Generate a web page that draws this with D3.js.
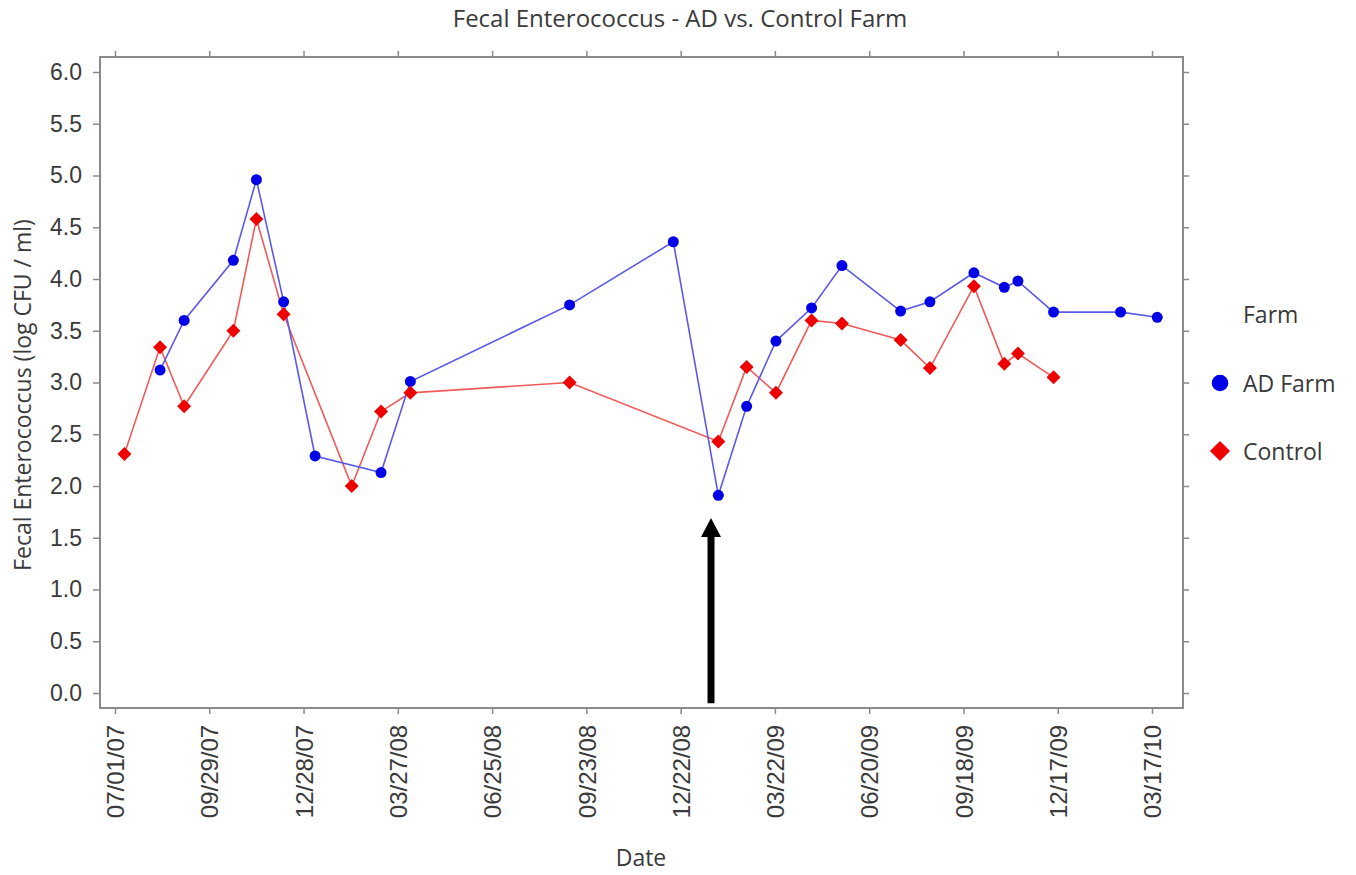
<!DOCTYPE html>
<html>
<head>
<meta charset="utf-8">
<script src="https://cdn.jsdelivr.net/npm/d3@7"></script>
<style>
  html, body { margin: 0; padding: 0; background: #ffffff; }
  svg { display: block; font-family: "Open Sans", "Noto Sans", sans-serif; }
</style>
</head>
<body>
<svg id="chart" width="1356" height="875"></svg>
<script>
// ---- data ----
const adDates = ["2007-08-13","2007-09-05","2007-10-22","2007-11-13","2007-12-09","2008-01-08","2008-03-11","2008-04-08","2008-09-07","2008-12-15","2009-01-27","2009-02-23","2009-03-23","2009-04-26","2009-05-25","2009-07-20","2009-08-17","2009-09-28","2009-10-27","2009-11-09","2009-12-13","2010-02-15","2010-03-22"];
const adValues = [3.12,3.60,4.18,4.96,3.78,2.29,2.13,3.01,3.75,4.36,1.91,2.77,3.40,3.72,4.13,3.69,3.78,4.06,3.92,3.98,3.68,3.68,3.63];

const ctrlDates = ["2007-07-10","2007-08-13","2007-09-05","2007-10-22","2007-11-13","2007-12-09","2008-02-12","2008-03-11","2008-04-08","2008-09-07","2009-01-27","2009-02-23","2009-03-23","2009-04-26","2009-05-25","2009-07-20","2009-08-17","2009-09-28","2009-10-27","2009-11-09","2009-12-13"];
const ctrlValues = [2.31,3.34,2.77,3.50,4.58,3.66,2.00,2.72,2.90,3.00,2.43,3.15,2.90,3.60,3.57,3.41,3.14,3.93,3.18,3.28,3.05];

const xTickLabels = ["07/01/07","09/29/07","12/28/07","03/27/08","06/25/08","09/23/08","12/22/08","03/22/09","06/20/09","09/18/09","12/17/09","03/17/10"];
const yTickValues = [0,0.5,1,1.5,2,2.5,3,3.5,4,4.5,5,5.5,6];
const seriesNames = ["AD Farm","Control"];
const arrowDate = "2009-01-20";
const arrowValues = [-0.1, 1.69];

// ---- setup ----
const svg = d3.select("#chart");
const parse = d3.utcParse("%Y-%m-%d");
const tickParse = d3.utcParse("%m/%d/%y");
const fmt = d3.utcFormat("%m/%d/%y");

const frame = {left: 100, right: 1183, top: 57, bottom: 708};

const x = d3.scaleUtc()
  .domain([tickParse(xTickLabels[0]), tickParse(xTickLabels[xTickLabels.length - 1])])
  .range([115, 1152]);
const y = d3.scaleLinear().domain([0, 6]).range([693, 72]);

const axisColor = "#8a8a8a";
const textColor = "#3a3a3a";
const xTicks = xTickLabels.map(tickParse);

// frame
svg.append("rect")
  .attr("x", frame.left).attr("y", frame.top)
  .attr("width", frame.right - frame.left).attr("height", frame.bottom - frame.top)
  .attr("fill", "none").attr("stroke", axisColor).attr("stroke-width", 2);

function styleAxis(g) {
  g.select(".domain").remove();
  g.selectAll(".tick line").attr("stroke", axisColor).attr("stroke-width", 1.5);
  g.selectAll(".tick text").attr("fill", textColor);
}

// bottom axis
const gx = svg.append("g").attr("transform", `translate(0,${frame.bottom})`)
  .call(d3.axisBottom(x).tickValues(xTicks).tickFormat(fmt).tickSize(6).tickPadding(6))
  .call(styleAxis);
gx.selectAll(".tick text")
  .attr("font-size", 24)
  .attr("text-anchor", "end")
  .attr("dx", "-0.45em")
  .attr("dy", "0.36em")
  .attr("x", 0).attr("y", 0)
  .attr("transform", "translate(0,6) rotate(-90)");

// top axis (ticks only)
svg.append("g").attr("transform", `translate(0,${frame.top})`)
  .call(d3.axisTop(x).tickValues(xTicks).tickFormat("").tickSize(6))
  .call(styleAxis);

// left axis
svg.append("g").attr("transform", `translate(${frame.left},0)`)
  .call(d3.axisLeft(y).tickValues(yTickValues).tickFormat(d3.format(".1f")).tickSize(7).tickPadding(11))
  .call(styleAxis)
  .selectAll(".tick text").attr("font-size", 23);

// right axis (ticks only)
svg.append("g").attr("transform", `translate(${frame.right},0)`)
  .call(d3.axisRight(y).tickValues(yTickValues).tickFormat("").tickSize(6))
  .call(styleAxis);

// titles
svg.append("text").attr("x", 680).attr("y", 27).attr("text-anchor", "middle")
  .attr("font-size", 24).attr("fill", textColor)
  .text("Fecal Enterococcus - AD vs. Control Farm");
svg.append("text").attr("x", 641).attr("y", 866).attr("text-anchor", "middle")
  .attr("font-size", 23).attr("fill", textColor).text("Date");
svg.append("text").attr("transform", "translate(31,395) rotate(-90)").attr("text-anchor", "middle")
  .attr("font-size", 23).attr("fill", textColor).text("Fecal Enterococcus (log CFU / ml)");

// series
const ad = adDates.map((d, i) => ({date: parse(d), value: adValues[i]}));
const ctrl = ctrlDates.map((d, i) => ({date: parse(d), value: ctrlValues[i]}));
const line = d3.line().x(d => x(d.date)).y(d => y(d.value));

svg.append("path").datum(ctrl).attr("d", line)
  .attr("fill", "none").attr("stroke", "#f05a5a").attr("stroke-width", 1.6);
svg.append("path").datum(ad).attr("d", line)
  .attr("fill", "none").attr("stroke", "#5a5ae6").attr("stroke-width", 1.6);

const diamond = d3.symbol().type(d3.symbolDiamond2);

svg.append("g").selectAll("circle").data(ad).join("circle")
  .attr("cx", d => x(d.date)).attr("cy", d => y(d.value)).attr("r", 5.5)
  .attr("fill", "#0000e6");
svg.append("g").selectAll("path").data(ctrl).join("path")
  .attr("d", diamond.size(125)())
  .attr("transform", d => `translate(${x(d.date)},${y(d.value)})`)
  .attr("fill", "#ee0000");

// arrow annotation
const ax = x(parse(arrowDate));
svg.append("line").attr("x1", ax).attr("x2", ax)
  .attr("y1", y(arrowValues[0])).attr("y2", y(arrowValues[1]) + 16)
  .attr("stroke", "#000").attr("stroke-width", 7);
svg.append("path")
  .attr("d", `M${ax},${y(arrowValues[1])} L${ax - 10},${y(arrowValues[1]) + 19} L${ax + 10},${y(arrowValues[1]) + 19} Z`)
  .attr("fill", "#000");

// legend
const legend = svg.append("g");
legend.append("text").attr("x", 1243).attr("y", 323).attr("font-size", 23).attr("fill", textColor).text("Farm");
legend.append("circle").attr("cx", 1220).attr("cy", 383).attr("r", 8.3).attr("fill", "#0000e6");
legend.append("text").attr("x", 1243).attr("y", 392).attr("font-size", 23).attr("fill", textColor).text(seriesNames[0]);
legend.append("path").attr("d", diamond.size(260)()).attr("transform", "translate(1220,451)").attr("fill", "#ee0000");
legend.append("text").attr("x", 1243).attr("y", 460).attr("font-size", 23).attr("fill", textColor).text(seriesNames[1]);
</script>
</body>
</html>
